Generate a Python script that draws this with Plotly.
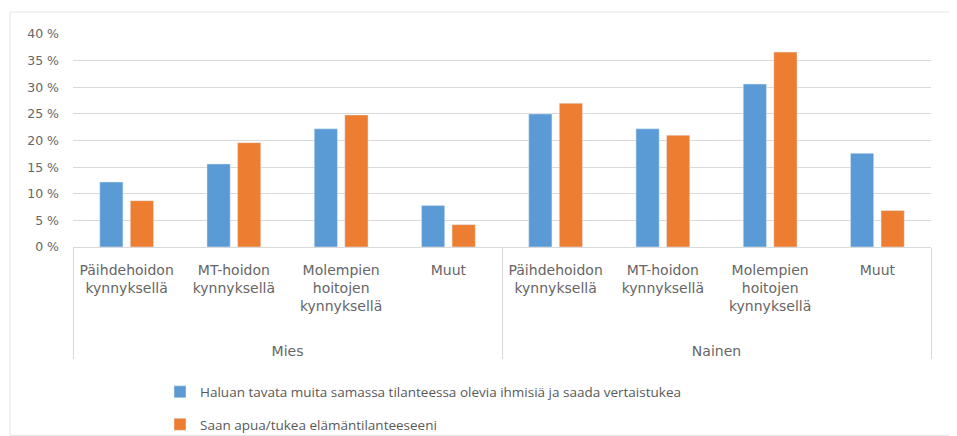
import plotly.graph_objects as go

groups = ["<br><br>Mies"] * 4 + ["<br><br>Nainen"] * 4
categories = [
    "Päihdehoidon<br>kynnyksellä",
    "MT-hoidon<br>kynnyksellä",
    "Molempien<br>hoitojen<br>kynnyksellä",
    "Muut",
] * 2
series1_name = "Haluan tavata muita samassa tilanteessa olevia ihmisiä ja saada vertaistukea"
series2_name = "Saan apua/tukea elämäntilanteeseeni"
series1 = [12.2, 15.6, 22.2, 7.8, 25.0, 22.2, 30.6, 17.6]
series2 = [8.7, 19.6, 24.8, 4.2, 27.0, 21.0, 36.6, 6.85]
ytickvals = [0, 5, 10, 15, 20, 25, 30, 35, 40]
yticktext = ["0 %", "5 %", "10 %", "15 %", "20 %", "25 %", "30 %", "35 %", "40 %"]

# page body has an 8px margin: lay the figure out in shifted pixel coordinates
OFF = 8
W, H = 957 - OFF, 436 - OFF
PL, PR, PT, PB = 73 - OFF, 931 - OFF, 34 - OFF, 247.3 - OFF
PW, PH = PR - PL, PB - PT


def px_x(x):
    return (x - OFF - PL) / PW


def px_y(y):
    return (PB - (y - OFF)) / PH


fig = go.Figure()
fig.add_trace(go.Bar(x=[groups, categories], y=series1, name=series1_name,
                     marker_color="#5b9bd5", legendgroup="a"))
fig.add_trace(go.Bar(x=[groups, categories], y=series2, name=series2_name,
                     marker_color="#ed7d31", legendgroup="b"))

fig.update_layout(
    width=W, height=H,
    margin=dict(l=PL, r=W - PR, t=PT, b=H - PB, autoexpand=False),
    paper_bgcolor="white", plot_bgcolor="white",
    barmode="group", bargap=0.43, bargroupgap=0.24,
    font=dict(family="DejaVu Sans", size=13, color="#595959"),
    showlegend=True,
    legend=dict(orientation="v", x=px_x(160), xanchor="left", y=px_y(377), yanchor="top",
                bgcolor="rgba(0,0,0,0)",
                font=dict(family="Open Sans", size=13.5, color="#595959"),
                tracegroupgap=12, itemwidth=30),
    xaxis=dict(type="multicategory", showline=True, linecolor="#d9d9d9",
               showdividers=True, dividercolor="#d9d9d9", dividerwidth=1,
               tickfont=dict(family="DejaVu Sans", size=14, color="#666666"),
               ticks="", ticklabelstandoff=10),
    yaxis=dict(range=[0, 40], tickvals=ytickvals, ticktext=yticktext,
               showgrid=True, gridcolor="#d9d9d9", gridwidth=1, zeroline=False,
               tickfont=dict(family="DejaVu Sans", size=12.5, color="#666666"),
               ticklen=0, ticks="", ticklabelstandoff=13),
    shapes=[dict(type="rect", xref="paper", yref="paper",
                 x0=px_x(10), x1=px_x(950), y0=px_y(436), y1=px_y(12),
                 line=dict(color="#e6e6e6", width=1))],
)
fig.write_html("out.html")
